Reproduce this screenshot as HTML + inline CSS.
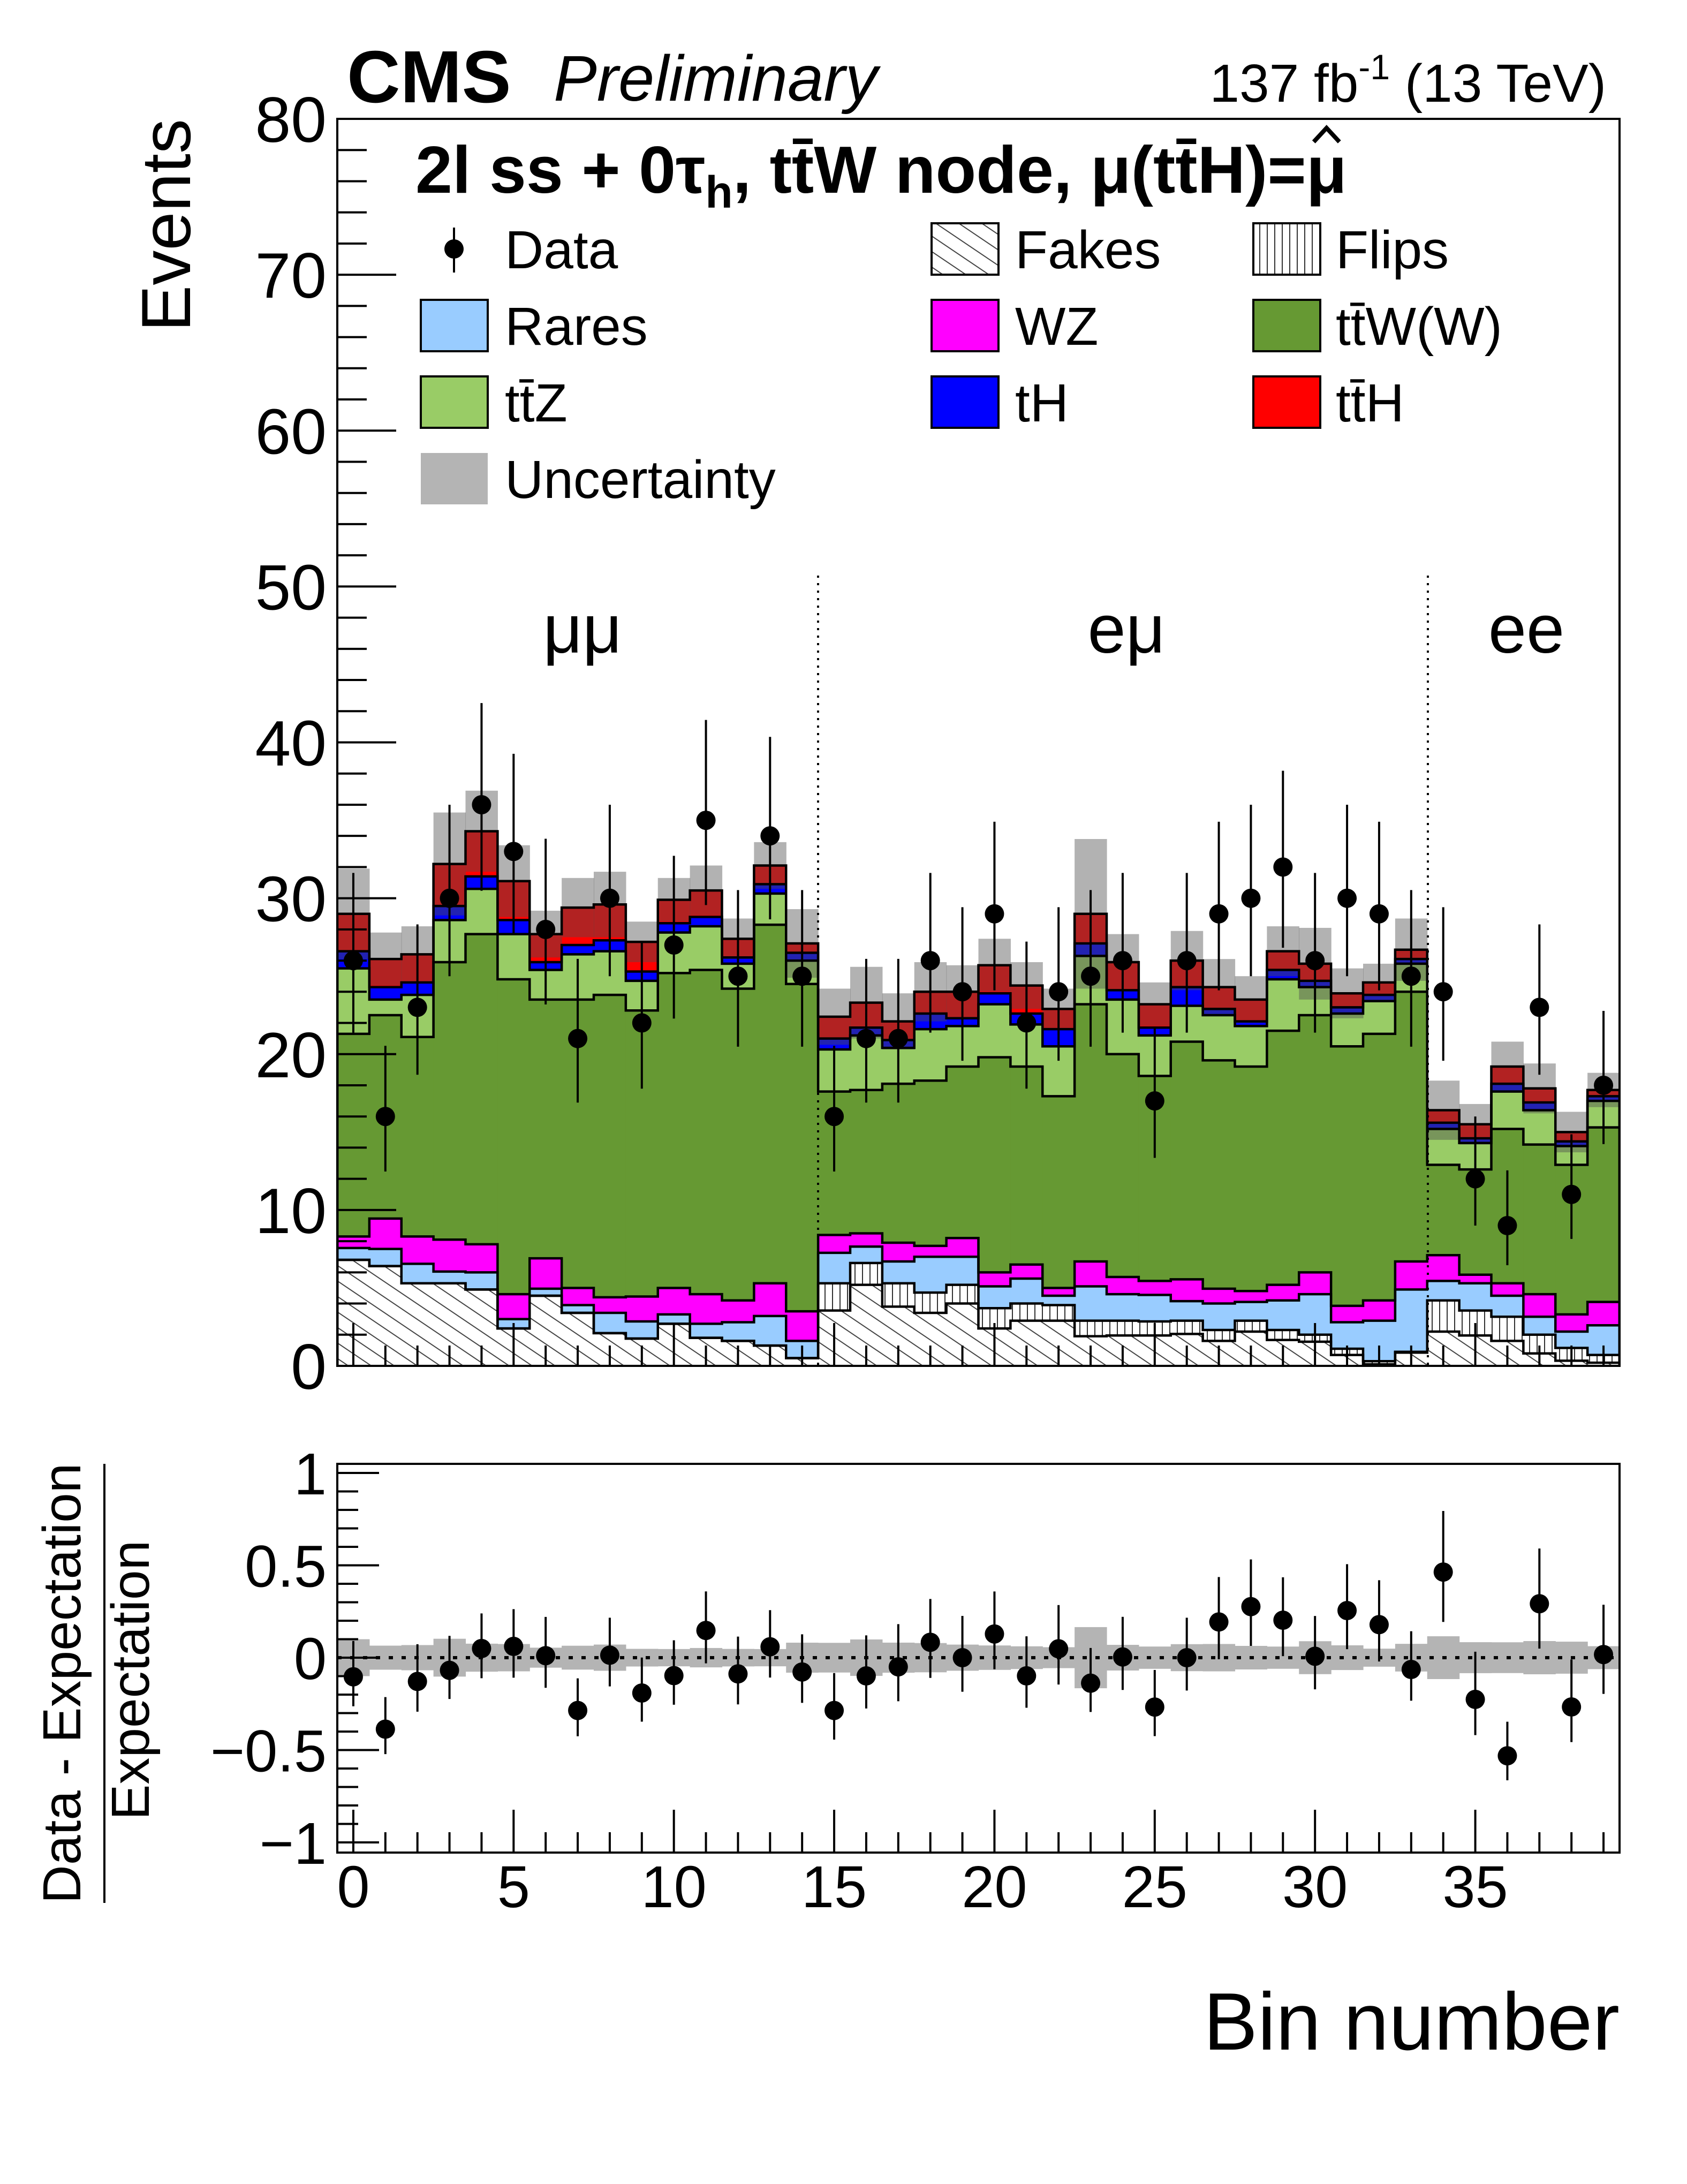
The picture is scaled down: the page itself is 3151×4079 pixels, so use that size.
<!DOCTYPE html>
<html><head><meta charset="utf-8"><style>
html,body{margin:0;padding:0;background:#fff}
svg{display:block}
text{font-family:"Liberation Sans",sans-serif}
</style></head><body>
<svg id="chart" width="3151" height="4079" viewBox="0 0 3151 4079" xmlns="http://www.w3.org/2000/svg">
<defs>
<pattern id="hatchFakes" patternUnits="userSpaceOnUse" width="24" height="24" patternTransform="rotate(-56)">
<rect width="24" height="24" fill="#fff"/><line x1="0" y1="0" x2="0" y2="24" stroke="#444" stroke-width="4"/>
</pattern>
<pattern id="hatchFlips" patternUnits="userSpaceOnUse" width="14" height="14">
<rect width="14" height="14" fill="#fff"/><line x1="1" y1="0" x2="1" y2="14" stroke="#333" stroke-width="2"/>
</pattern>
<clipPath id="mainClip"><rect x="630" y="222" width="2395" height="2329"/></clipPath>
<clipPath id="ratioClip"><rect x="630" y="2734" width="2395" height="726"/></clipPath>
</defs>
<g id="mainFills" clip-path="url(#mainClip)"></g>
<g id="mainBand" clip-path="url(#mainClip)"></g>
<g id="mainLines" clip-path="url(#mainClip)"></g>
<g id="ratioBand" clip-path="url(#ratioClip)"></g>
<g id="axes"></g>
<g id="dataPts"></g>
<g id="ratioPts" clip-path="url(#ratioClip)"></g>

<text x="648" y="191" font-size="138" font-weight="bold">CMS</text>
<text x="1034" y="188" font-size="121" font-style="italic">Preliminary</text>
<text x="3000" y="190" font-size="100" text-anchor="end">137 fb<tspan dy="-42" font-size="66">-1</tspan><tspan dy="42"> (13 TeV)</tspan></text>
<text id="title" x="776" y="360" font-size="124" font-weight="bold">2l ss + 0τ<tspan dy="28" font-size="84">h</tspan><tspan dy="-28">, tt̄W node, μ(tt̄H)=</tspan><tspan id="muhat">μ</tspan></text>

<text x="1088" y="1219" font-size="128" text-anchor="middle">μμ</text>
<text x="2104" y="1219" font-size="128" text-anchor="middle">eμ</text>
<text x="2851" y="1219" font-size="128" text-anchor="middle">ee</text>
<line x1="1528" y1="1075" x2="1528" y2="2551" stroke="#000" stroke-width="4" stroke-dasharray="4,10"/>
<line x1="2667" y1="1075" x2="2667" y2="2551" stroke="#000" stroke-width="4" stroke-dasharray="4,10"/>

<g id="legend" transform="translate(0,-8)">
<g><line x1="848" y1="433" x2="848" y2="517" stroke="#000" stroke-width="4"/><circle cx="848" cy="473" r="18" fill="#000"/><text x="943" y="509" font-size="100">Data</text></g>
<g><rect x="1740" y="425" width="125" height="96" fill="url(#hatchFakes)" stroke="#000" stroke-width="4"/><text x="1896" y="509" font-size="100">Fakes</text></g>
<g><rect x="2341" y="425" width="125" height="96" fill="url(#hatchFlips)" stroke="#000" stroke-width="4"/><text x="2495" y="509" font-size="100">Flips</text></g>
<g><rect x="786" y="568" width="125" height="96" fill="#99CCFF" stroke="#000" stroke-width="4"/><text x="943" y="652" font-size="100">Rares</text></g>
<g><rect x="1740" y="568" width="125" height="96" fill="#FF00FF" stroke="#000" stroke-width="4"/><text x="1896" y="652" font-size="100">WZ</text></g>
<g><rect x="2341" y="568" width="125" height="96" fill="#669933" stroke="#000" stroke-width="4"/><text x="2495" y="652" font-size="100">tt̄W(W)</text></g>
<g><rect x="786" y="711" width="125" height="96" fill="#99CC66" stroke="#000" stroke-width="4"/><text x="943" y="795" font-size="100">tt̄Z</text></g>
<g><rect x="1740" y="711" width="125" height="96" fill="#0000FF" stroke="#000" stroke-width="4"/><text x="1896" y="795" font-size="100">tH</text></g>
<g><rect x="2341" y="711" width="125" height="96" fill="#FF0000" stroke="#000" stroke-width="4"/><text x="2495" y="795" font-size="100">tt̄H</text></g>
<g><rect x="786" y="854" width="125" height="96" fill="#B4B4B4"/><text x="943" y="938" font-size="100">Uncertainty</text></g>
</g>

<text transform="translate(355,222) rotate(-90)" font-size="130" text-anchor="end">Events</text>
<text transform="translate(150,3144) rotate(-90)" font-size="100" text-anchor="middle">Data - Expectation</text>
<line x1="195" y1="2734" x2="195" y2="3554" stroke="#000" stroke-width="4"/>
<text transform="translate(278,3138) rotate(-90)" font-size="100" text-anchor="middle">Expectation</text>
<text x="3025" y="3828" font-size="152" text-anchor="end">Bin number</text>
</svg>
<script>
const fakes=[6.8,6.4,5.3,5.3,4.9,2.4,4.5,3.4,2.1,1.75,2.7,1.8,1.6,1.3,0.5,3.55,5.2,3.8,3.4,4.0,2.4,2.9,2.9,1.9,1.95,1.95,2.05,1.6,2.2,1.66,1.55,0.7,0.1,0.85,2.2,1.95,1.6,0.8,0.33,0.2];
const flips=[0,0,0,0,0,0,0,0,0,0,0,0,0,0,0,1.75,1.4,1.5,1.3,1.2,1.3,1.1,1.0,1.0,0.95,0.9,0.85,0.7,0.7,0.64,0.45,0.4,0.2,0.05,2.0,1.6,1.55,1.2,0.82,0.5];
const rares=[0.76,1.1,1.25,0.75,1.1,0.6,0.45,0.5,1.3,1.1,0.6,0.9,1.2,1.9,1.1,1.95,1.05,1.4,2.3,1.8,1.4,1.6,0.6,2.2,1.7,1.7,1.25,1.7,1.2,1.9,2.6,1.7,2.6,4.0,1.25,1.75,1.35,1.15,1.05,1.9];
const wz=[0.74,1.95,1.75,2.05,1.8,1.6,1.95,1.1,1.0,1.6,1.7,1.9,1.4,2.1,1.9,1.15,0.85,1.2,0.7,1.2,0.9,0.9,0.5,1.6,1.1,0.9,1.4,0.95,0.7,1.0,1.4,1.05,1.3,1.8,1.65,0.55,0.8,1.45,1.1,1.5];
const ttw=[13.0,13.05,12.8,17.8,19.9,20.2,16.6,18.5,19.4,18.35,20.2,20.8,20.0,23.0,21.0,9.2,9.2,10.2,10.6,11.0,13.8,12.7,12.3,16.5,14.3,13.15,15.25,14.65,14.4,16.3,16.5,16.65,17.1,17.3,5.8,6.75,9.9,9.6,9.6,11.2];
const ttz=[4.2,1.0,2.7,2.7,2.9,2.9,1.9,2.9,2.8,1.9,2.6,2.8,1.6,2.0,1.5,2.7,3.5,2.3,3.3,2.6,3.4,2.7,3.2,3.1,3.5,2.6,2.3,2.9,2.6,3.3,1.8,2.1,2.1,1.8,2.3,1.7,2.4,2.2,1.2,1.7];
const th=[1.1,0.8,0.8,0.9,0.8,0.9,0.5,0.6,0.7,0.6,0.6,0.6,0.4,0.6,0.5,0.7,0.5,0.5,1.0,0.5,0.7,0.7,1.1,0.8,0.6,0.5,1.2,0.4,0.3,0.6,0.4,0.4,0.4,0.3,0.4,0.3,0.5,0.5,0.3,0.3];
const tth=[2.4,1.8,1.8,2.7,2.9,2.5,1.8,2.4,2.3,1.9,1.5,1.7,1.2,1.2,0.6,1.4,1.6,1.2,1.4,1.7,1.8,1.8,1.3,1.9,1.8,1.5,1.7,1.4,1.4,1.2,1.1,0.9,0.8,0.6,0.8,0.9,1.1,0.9,0.6,0.4];
const unc=[2.9,1.7,1.8,3.3,2.6,2.3,1.5,1.9,2.1,1.3,1.4,1.6,1.3,1.5,2.2,1.8,2.3,1.8,1.9,1.7,1.7,1.5,1.3,4.8,1.8,1.4,1.9,1.8,1.5,1.6,2.3,1.6,1.2,2.0,1.9,1.3,1.6,1.6,1.3,1.1];
const dataY=[26,16,23,30,36,33,28,21,30,22,27,35,25,34,25,16,21,21,26,24,29,22,24,25,26,17,26,29,30,32,26,30,29,25,24,12,9,23,11,18];
const yTicksMain=[0,10,20,30,40,50,60,70,80];
const yTicksRatio=[-1,-0.5,0,0.5,1];
const yTickLabelsRatio=["\u22121","\u22120.5","0","0.5","1"];
const xTickLabels=[0,5,10,15,20,25,30,35];

const NS="http://www.w3.org/2000/svg";
const XL=630,XR=3025,YT=222,YB=2551,NB=40,BW=(XR-XL)/NB;
const RT=2734,RB=3460,R0=3096,RS=345;
function xEdge(i){return XL+i*BW;}
function xC(i){return XL+(i+0.5)*BW;}
function yM(v){return YB-v*(YB-YT)/80;}
function yR(v){return R0-v*RS;}
function mk(tag,attrs,parent){const e=document.createElementNS(NS,tag);for(const k in attrs)e.setAttribute(k,attrs[k]);parent.appendChild(e);return e;}

const svg=document.getElementById('chart');
try{
  const mh=document.getElementById('muhat');
  const bb=mh.getBBox();
  const cx=bb.x+bb.width*0.5, top=bb.y+12;
  const hat=mk('polyline',{points:(cx-24)+','+(top+4)+' '+cx+','+(top-22)+' '+(cx+24)+','+(top+4),fill:'none',stroke:'#000','stroke-width':8},svg);
  
  
}catch(e){}

const comps=[
 {name:'fakes',vals:fakes,fill:'url(#hatchFakes)'},
 {name:'flips',vals:flips,fill:'url(#hatchFlips)'},
 {name:'rares',vals:rares,fill:'#99CCFF'},
 {name:'wz',vals:wz,fill:'#FF00FF'},
 {name:'ttw',vals:ttw,fill:'#669933'},
 {name:'ttz',vals:ttz,fill:'#99CC66'},
 {name:'th',vals:th,fill:'#0000FF'},
 {name:'tth',vals:tth,fill:'#FF0000'}
];
const fillsG=document.getElementById('mainFills');
const linesG=document.getElementById('mainLines');
const base=new Array(NB).fill(0);
const cumTops=[];
comps.forEach(c=>{
  const tops=[];
  for(let i=0;i<NB;i++){
    const lo=base[i],hi=base[i]+c.vals[i];
    const r=mk('rect',{x:xEdge(i),y:yM(hi),width:BW+0.6,height:Math.max(0,yM(lo)-yM(hi)),fill:c.fill},fillsG);
    
    
    base[i]=hi;tops.push(hi);
  }
  cumTops.push({name:c.name,tops:tops});
});
cumTops.forEach(ct=>{
  let d='M'+xEdge(0)+','+yM(0);
  for(let i=0;i<NB;i++){d+=' L'+xEdge(i)+','+yM(ct.tops[i])+' L'+xEdge(i+1)+','+yM(ct.tops[i]);}
  d+=' L'+xEdge(NB)+','+yM(0);
  const p=mk('path',{d:d,fill:'none',stroke:'#000','stroke-width':4.5},linesG);
  
  
});
const total=base.slice();
const bandG=document.getElementById('mainBand');
const rbandG=document.getElementById('ratioBand');
for(let i=0;i<NB;i++){
  const b=mk('rect',{x:xEdge(i),y:yM(total[i]+unc[i]),width:BW+0.6,height:yM(total[i]-unc[i])-yM(total[i]+unc[i]),fill:'rgba(78,78,78,0.435)'},bandG);
  
  
  const rel=unc[i]/total[i];
  const rb=mk('rect',{x:xEdge(i),y:yR(rel),width:BW+0.6,height:yR(-rel)-yR(rel),fill:'#B4B4B4'},rbandG);
  
  
}
const dl=mk('line',{x1:XL,y1:R0,x2:XR,y2:R0,stroke:'#000','stroke-width':6,'stroke-dasharray':'8,16'},rbandG);



const axG=document.getElementById('axes');
function frame(y1,y2,nm){const r=mk('rect',{x:XL,y:y1,width:XR-XL,height:y2-y1,fill:'none',stroke:'#000','stroke-width':4},axG);}
frame(YT,YB,'main-frame');frame(RT,RB,'ratio-frame');
for(let v=0;v<=80;v+=2){
  const maj=v%10===0;
  mk('line',{x1:XL,y1:yM(v),x2:XL+(maj?110:55),y2:yM(v),stroke:'#000','stroke-width':4},axG);
}
yTicksMain.forEach(v=>{
  const t=mk('text',{x:610,y:yM(v)+43,'font-size':120,'text-anchor':'end'},axG);t.textContent=v;
  
  
});
for(let k=-10;k<=10;k++){
  const v=k/10;const maj=k%5===0;
  mk('line',{x1:XL,y1:yR(v),x2:XL+(maj?78:39),y2:yR(v),stroke:'#000','stroke-width':4},axG);
}
yTicksRatio.forEach((v,j)=>{
  const t=mk('text',{x:610,y:yR(v)+40,'font-size':110,'text-anchor':'end'},axG);t.textContent=yTickLabelsRatio[j];
  
  
});
for(let i=0;i<NB;i++){
  const len=(i%5===0)?80:38;
  mk('line',{x1:xC(i),y1:YB,x2:xC(i),y2:YB-len,stroke:'#000','stroke-width':4},axG);
  mk('line',{x1:xC(i),y1:RB,x2:xC(i),y2:RB-len,stroke:'#000','stroke-width':4},axG);
}
xTickLabels.forEach(v=>{
  const t=mk('text',{x:xC(v),y:3562,'font-size':110,'text-anchor':'middle'},axG);t.textContent=v;
  
  
});

const dG=document.getElementById('dataPts');
const rG=document.getElementById('ratioPts');
for(let i=0;i<NB;i++){
  const n=dataY[i];
  const up=0.5+Math.sqrt(n+0.25), dn=Math.sqrt(n+0.25)-0.5;
  const g=mk('g',{},dG);
  
  
  mk('line',{x1:xC(i),y1:yM(n+up),x2:xC(i),y2:yM(n-dn),stroke:'#000','stroke-width':4},g);
  mk('circle',{cx:xC(i),cy:yM(n),r:18,fill:'#000'},g);
  const r=n/total[i]-1;
  const g2=mk('g',{},rG);
  
  
  mk('line',{x1:xC(i),y1:yR(r+up/total[i]),x2:xC(i),y2:yR(r-dn/total[i]),stroke:'#000','stroke-width':4},g2);
  mk('circle',{cx:xC(i),cy:yR(r),r:18,fill:'#000'},g2);
}
</script>
</body></html>
